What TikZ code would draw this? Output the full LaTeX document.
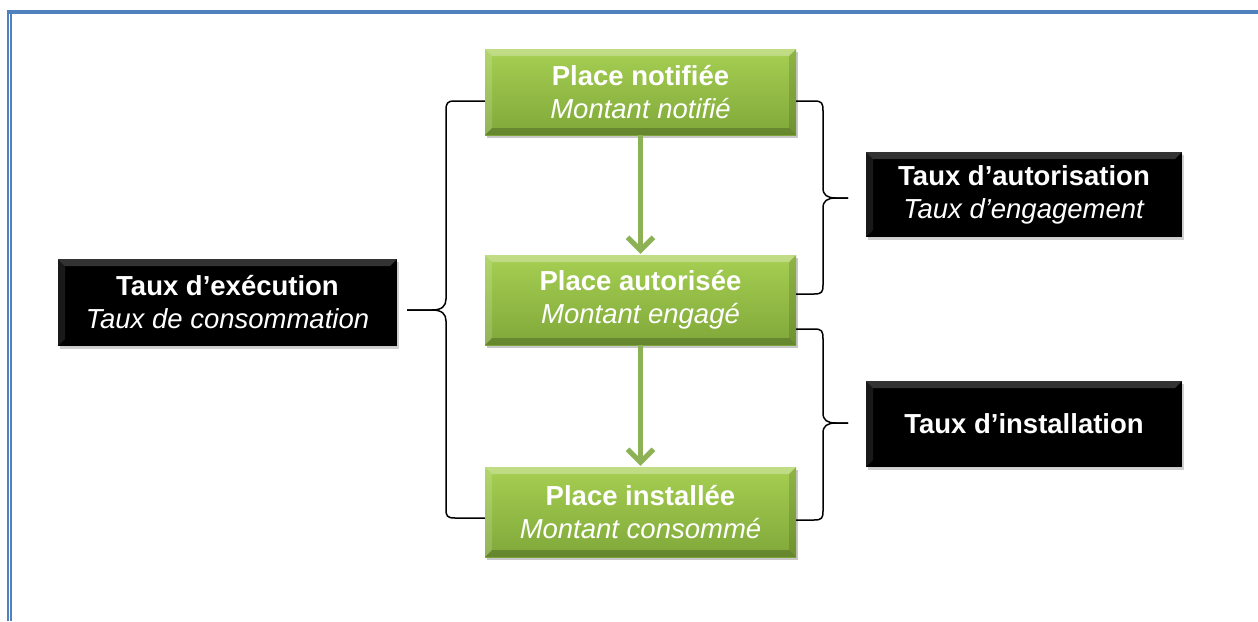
\documentclass[tikz,border=0pt]{standalone}
\usepackage{fontspec}
\setmainfont{Liberation Sans}
\usetikzlibrary{arrows.meta,shadows,calc}
\definecolor{pageblue}{HTML}{4F81BD}
\definecolor{gtop}{HTML}{A6CF52}
\definecolor{gbot}{HTML}{80A83A}
\definecolor{arrowgreen}{HTML}{8DB255}
\tikzset{
  bevel/.style={path picture={
    \fill[white,opacity=#1] (path picture bounding box.north west) -- (path picture bounding box.north east)
      -- ([shift={(-7pt,-7pt)}]path picture bounding box.north east) -- ([shift={(7pt,-7pt)}]path picture bounding box.north west) -- cycle;
    \fill[white,opacity=#1*0.5] (path picture bounding box.north west) -- ([shift={(7pt,-7pt)}]path picture bounding box.north west)
      -- ([shift={(7pt,7pt)}]path picture bounding box.south west) -- (path picture bounding box.south west) -- cycle;
    \fill[black,opacity=0.2] (path picture bounding box.south west) -- (path picture bounding box.south east)
      -- ([shift={(-7pt,7pt)}]path picture bounding box.south east) -- ([shift={(7pt,7pt)}]path picture bounding box.south west) -- cycle;
    \fill[black,opacity=0.13] (path picture bounding box.north east) -- ([shift={(-7pt,-7pt)}]path picture bounding box.north east)
      -- ([shift={(-7pt,7pt)}]path picture bounding box.south east) -- (path picture bounding box.south east) -- cycle;
  }},
  greenbox/.style={rectangle, inner sep=0pt, minimum width=311pt, top color=gtop, bottom color=gbot,
    text=white, align=center, font=\fontsize{27.5}{33}\selectfont, bevel=0.3,
    drop shadow={shadow xshift=2pt, shadow yshift=-3pt, opacity=0.3, fill=black!70}},
  blackbox/.style={rectangle, inner sep=0pt, fill=black, text=white, align=center,
    font=\fontsize{27.5}{33}\selectfont, bevel=0.2,
    drop shadow={shadow xshift=2pt, shadow yshift=-3pt, opacity=0.3, fill=black!60}},
  flow/.style={draw=arrowgreen, line width=5pt, -{Straight Barb[length=13pt,width=26pt,line width=5pt]}, shorten >=1pt},
  brace/.style={draw=black, line width=1.5pt, line join=round}
}
\begin{document}
\begin{tikzpicture}[x=1pt,y=-1pt]
\useasboundingbox (0,0) rectangle (1258,621);
\fill[white] (0,0) rectangle (1258,621);
% page border
\fill[pageblue] (7,10) rectangle (1258,14);
\fill[pageblue] (7.3,10) rectangle (9.3,621);
\fill[pageblue] (10.3,10) rectangle (11.7,621);

% green boxes
\node[greenbox, minimum height=86pt] (n1) at (640.5,92) {\textbf{Place notifiée}\\\textit{Montant notifié}};
\node[greenbox, minimum height=90pt] (n2) at (640.5,300) {\textbf{Place autorisée}\\\textit{Montant engagé}};
\node[greenbox, minimum height=90pt] (n3) at (640.5,512) {\textbf{Place installée}\\\textit{Montant consommé}};

% black boxes
\node[blackbox, minimum width=339pt, minimum height=87pt] (L) at (227.5,302.5) {\textbf{Taux d’exécution}\\\textit{Taux de consommation}};
\node[blackbox, minimum width=316pt, minimum height=85pt] (A) at (1024,194.5) {\textbf{Taux d’autorisation}\\\textit{Taux d’engagement}};
\node[blackbox, minimum width=316pt, minimum height=86pt] (B) at (1024,424) {\textbf{Taux d’installation}};

% arrows
\draw[flow] (n1.south) -- (n2.north);
\draw[flow] (n2.south) -- (n3.north);

% brace tips
\coordinate (tipL) at (407,310);
\coordinate (tipA) at (848,198);
\coordinate (tipB) at (848,423);

% left brace
\draw[brace] ([yshift=-9pt]n1.west) -- (455,101) .. controls (447,101) and (446,103) .. (446,111) -- (446,299)
  .. controls (446,306) and (442,310) .. (432,310) -- (tipL);
\draw[brace] (tipL) -- (432,310) .. controls (442,310) and (446,314) .. (446,321) -- (446,509)
  .. controls (446,516) and (447,518) .. (455,518) -- ([yshift=-6pt]n3.west);

% right brace 1
\draw[brace] ([yshift=-9pt]n1.east) -- (814,101) .. controls (822,101) and (823,103) .. (823,111) -- (823,188)
  .. controls (823,195) and (827,198) .. (836,198) -- (tipA);
\draw[brace] (tipA) -- (836,198) .. controls (827,198) and (823,201) .. (823,208) -- (823,285)
  .. controls (823,292) and (822,294) .. (814,294) -- ([yshift=6pt]n2.east);

% right brace 2
\draw[brace] ([yshift=-29pt]n2.east) -- (814,329) .. controls (822,329) and (823,331) .. (823,339) -- (823,413)
  .. controls (823,420) and (827,423) .. (836,423) -- (tipB);
\draw[brace] (tipB) -- (836,423) .. controls (827,423) and (823,426) .. (823,433) -- (823,511)
  .. controls (823,518) and (822,520) .. (814,520) -- ([yshift=-8pt]n3.east);
\end{tikzpicture}
\end{document}
